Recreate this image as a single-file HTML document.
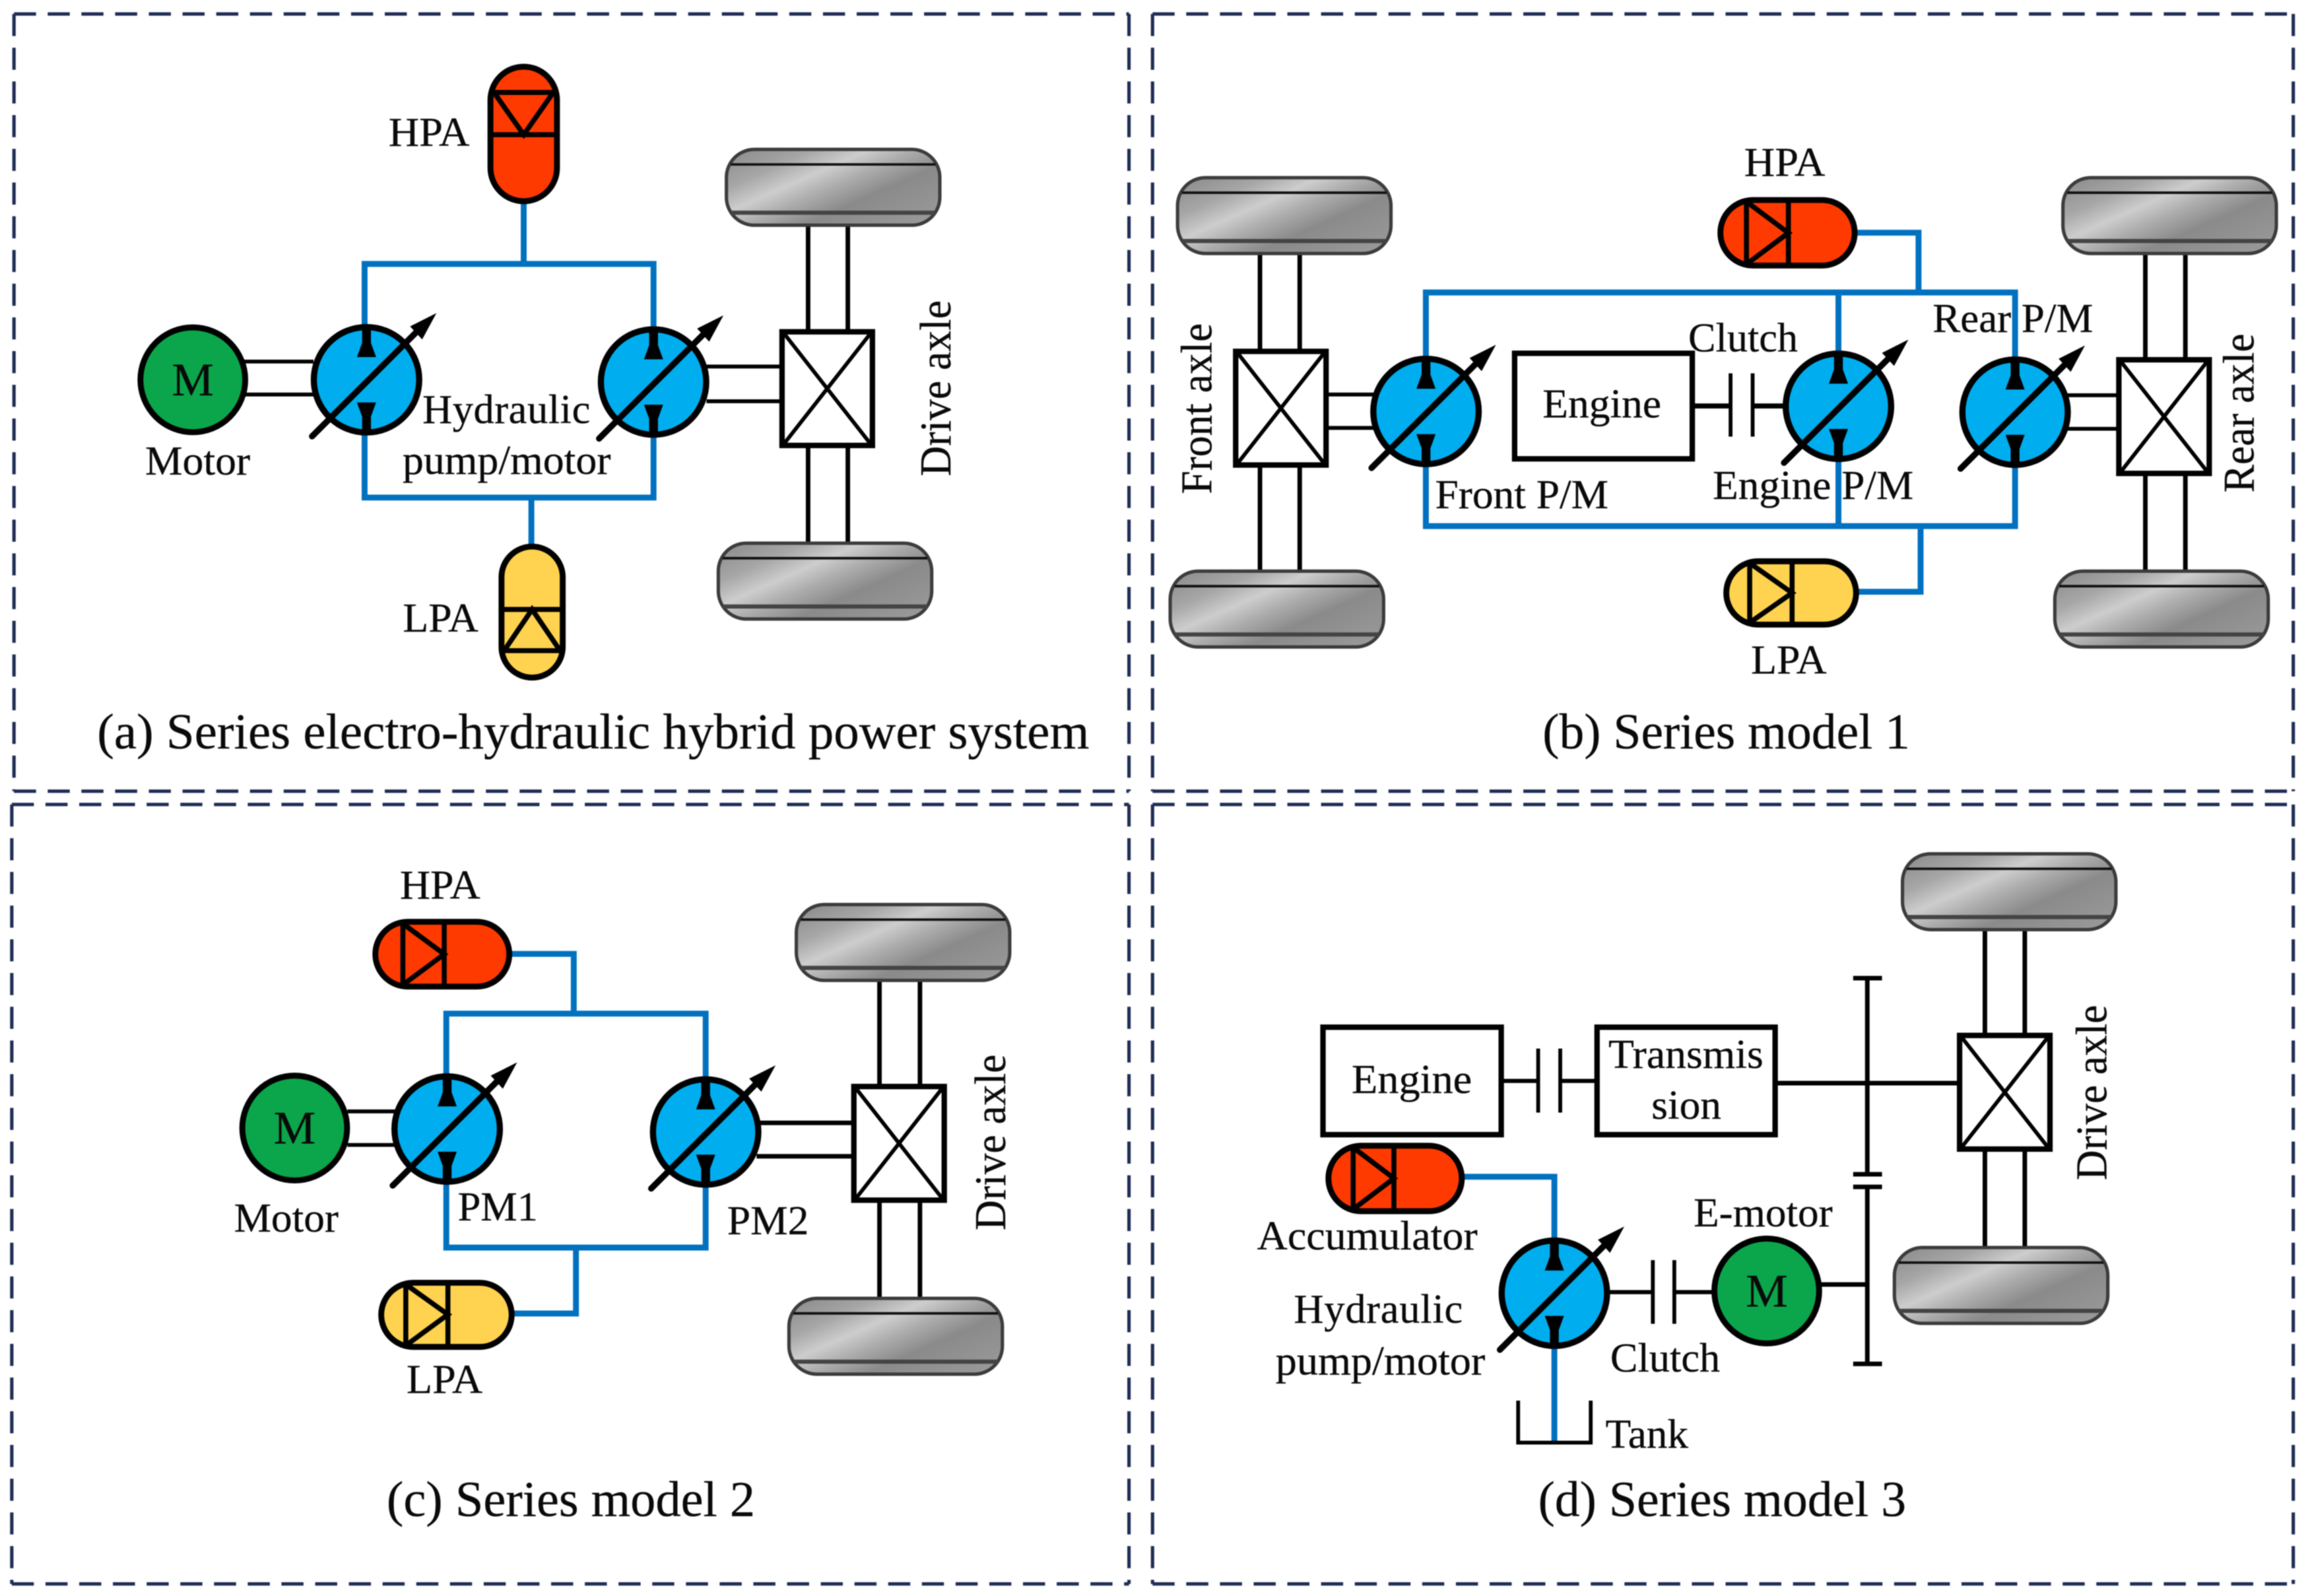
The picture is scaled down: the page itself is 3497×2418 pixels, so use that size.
<!DOCTYPE html>
<html><head><meta charset="utf-8"><style>
html,body{margin:0;padding:0;background:#fff}
svg{display:block;filter:blur(0.7px)}
text{font-family:"Liberation Serif",serif;fill:#0a0a0a;stroke:#0a0a0a;stroke-width:.16;font-size:28px}
.cap{font-size:34px}
.rot{font-size:30px}
.b{fill:none;stroke:#0071bf;stroke-width:4;stroke-linejoin:miter}
.k{fill:none;stroke:#000;stroke-width:2.6}
.k3{fill:none;stroke:#000;stroke-width:3.1}
.dash{fill:none;stroke:#1f2d55;stroke-width:2.3;stroke-dasharray:15 7.9}
.box{fill:#fff;stroke:#000;stroke-width:3.7}
.hp{fill:#ff3a00;stroke:#000;stroke-width:4}
.lp{fill:#ffd24f;stroke:#000;stroke-width:4}
.l{fill:none;stroke:#000;stroke-width:3.4}
</style></head><body>
<svg xmlns="http://www.w3.org/2000/svg" width="3497" height="2418" viewBox="0 0 1568 1084.2">
<defs>
<linearGradient id="tg" x1="0" y1="0.1" x2="1" y2="0.9">
<stop offset="0" stop-color="#8e8e8e"/><stop offset="0.2" stop-color="#a6a6a6"/><stop offset="0.36" stop-color="#cdcdcd"/><stop offset="0.5" stop-color="#ababab"/><stop offset="0.66" stop-color="#8a8a8a"/><stop offset="1" stop-color="#999"/>
</linearGradient>
<g id="wheel">
<rect x="1" y="1" width="145" height="51.5" rx="19" ry="19" fill="url(#tg)" stroke="#3c3c3c" stroke-width="2.3"/>
<line x1="4" y1="11.2" x2="143" y2="11.2" stroke="#111" stroke-width="1.7"/>
<line x1="4" y1="44" x2="143" y2="44" stroke="#444" stroke-width="2.8"/>
</g>
<g id="pump">
<circle r="35.8" fill="#00aeef" stroke="#000" stroke-width="4.2"/>
<path d="M-6.5,-15.4 H6.5 L3,-25 V-36 H-3 V-25 Z" fill="#000"/>
<path d="M-6.5,15.4 H6.5 L3,25 V36 H-3 V25 Z" fill="#000"/>
<line x1="-37" y1="38.4" x2="38" y2="-36.5" stroke="#000" stroke-width="4.2" stroke-linecap="round"/>
<path d="M47.5,-45.3 L29.6,-36.3 L37.8,-27.4 Z" fill="#000"/>
</g>
<g id="diff">
<rect x="-30.7" y="-38.6" width="61.4" height="77.2" class="box"/>
<path d="M-29,-37 L29,37 M29,-37 L-29,37" stroke="#000" stroke-width="2.6" fill="none"/>
</g>
<g id="motor">
<circle r="35.6" fill="#0ba64b" stroke="#000" stroke-width="4"/>
</g>
</defs>
<rect width="1568" height="1084.2" fill="#fff"/>

<!-- panels -->
<path class="dash" d="M9.5,9.5 H767 M9.5,9.5 V537.5 M767,9.5 V537.5 M9.5,537.5 H767"/>
<path class="dash" d="M783,9.5 H1558 M783,9.5 V537.5 M1558,9.5 V537.5 M783,537.5 H1558"/>
<path class="dash" d="M8,546.5 H767 M8,546.5 V1076 M767,546.5 V1076 M8,1076 H767"/>
<path class="dash" d="M783,546.5 H1558 M783,546.5 V1076 M1558,546.5 V1076 M783,1076 H1558"/>

<!-- PANEL A -->
<path class="b" d="M355.8,137 V179.3 M247.7,222 V179.3 H444 V222 M247.7,295 V338 H444 V295 M361,338 V371"/>
<line x1="165" y1="245.6" x2="213" y2="245.6" class="k"/><line x1="165" y1="268" x2="213" y2="268" class="k"/>
<line x1="480" y1="249" x2="532" y2="249" class="k"/><line x1="480" y1="272.6" x2="532" y2="272.6" class="k"/>
<line x1="549" y1="154" x2="549" y2="226" class="k3"/><line x1="576" y1="154" x2="576" y2="226" class="k3"/>
<line x1="549" y1="302" x2="549" y2="369" class="k3"/><line x1="576" y1="302" x2="576" y2="369" class="k3"/>
<use href="#wheel" x="492.5" y="100.5"/><use href="#wheel" x="487" y="368"/>
<use href="#diff" x="562" y="264"/>
<use href="#motor" x="131" y="258"/>
<text x="131" y="268.5" text-anchor="middle" style="font-size:32px">M</text>
<use href="#pump" x="249" y="258"/><use href="#pump" x="444" y="259.5"/>
<rect x="333.2" y="45.3" width="45.2" height="91.4" rx="22.6" ry="22.6" class="hp"/>
<path class="l" d="M333.2,62.8 H378.4 M333.2,91.5 H378.4 M335.6,62.8 L355.8,91.5 L375.9,62.8"/>
<rect x="340.7" y="371.3" width="41.6" height="89" rx="20.8" ry="20.8" class="lp"/>
<path class="l" d="M340.7,414 H382.3 M340.7,442 H382.3 M342.5,442 L361.5,414 L380.5,442"/>
<text x="264" y="99" textLength="55" lengthAdjust="spacingAndGlyphs">HPA</text>
<text x="98.6" y="322.5" textLength="71.4" lengthAdjust="spacingAndGlyphs">Motor</text>
<text x="287" y="287.5" textLength="114" lengthAdjust="spacing">Hydraulic</text>
<text x="273.5" y="322" textLength="141.5" lengthAdjust="spacingAndGlyphs">pump/motor</text>
<text x="273.7" y="429" textLength="51.3" lengthAdjust="spacingAndGlyphs">LPA</text>
<text class="rot" transform="translate(645.6,323.5) rotate(-90)" textLength="119.5" lengthAdjust="spacingAndGlyphs">Drive axle</text>
<text class="cap" x="66" y="508.5" textLength="674" lengthAdjust="spacingAndGlyphs">(a) Series electro-hydraulic hybrid power system</text>

<!-- PANEL B -->
<path class="b" d="M1261,158.1 H1303.4 V198.7 M968.7,244 V198.7 H1369 V244 M1249,198.7 V240 M968.7,316 V357.4 H1369 V316 M1249,312 V357.4 M1262,402 H1304.8 V357.4"/>
<line x1="856" y1="173" x2="856" y2="240" class="k3"/><line x1="883" y1="173" x2="883" y2="240" class="k3"/>
<line x1="856" y1="315" x2="856" y2="388" class="k3"/><line x1="883" y1="315" x2="883" y2="388" class="k3"/>
<line x1="1457.5" y1="173" x2="1457.5" y2="245" class="k3"/><line x1="1484.7" y1="173" x2="1484.7" y2="245" class="k3"/>
<line x1="1457.5" y1="320" x2="1457.5" y2="388" class="k3"/><line x1="1484.7" y1="320" x2="1484.7" y2="388" class="k3"/>
<line x1="900" y1="268" x2="935" y2="268" class="k"/><line x1="900" y1="290.7" x2="935" y2="290.7" class="k"/>
<line x1="1404" y1="268.5" x2="1440" y2="268.5" class="k"/><line x1="1404" y1="291.3" x2="1440" y2="291.3" class="k"/>
<use href="#wheel" x="799" y="119.7"/><use href="#wheel" x="794" y="387"/>
<use href="#wheel" x="1400.5" y="119.7"/><use href="#wheel" x="1395" y="387"/>
<use href="#diff" x="870.2" y="277.3"/><use href="#diff" x="1470.2" y="283"/>
<use href="#pump" x="968.8" y="279.5"/><use href="#pump" x="1249" y="276"/><use href="#pump" x="1369" y="280"/>
<rect x="1029" y="240" width="120.7" height="71.7" class="box"/>
<path d="M1149.7,275.8 H1175.7 M1190.7,275.8 H1213" stroke="#000" stroke-width="3.4" fill="none"/>
<path d="M1175.7,253.6 V296.6 M1190.7,253.6 V296.6" class="k"/>
<rect x="1168.8" y="135.9" width="91.2" height="44.5" rx="22.2" ry="22.2" class="hp"/>
<path class="l" d="M1186.5,137 V179.5 M1215,135.9 V180.4 M1186.5,137 L1215,158.2 L1186.5,179.5"/>
<rect x="1172.8" y="381.3" width="88.2" height="43" rx="21.5" ry="21.5" class="lp"/>
<path class="l" d="M1188.7,382.5 V423 M1217.5,381.3 V424.3 M1188.7,382.5 L1217.5,402.8 L1188.7,423"/>
<text x="1185" y="119.4" textLength="55" lengthAdjust="spacingAndGlyphs">HPA</text>
<text x="1189.6" y="457.5" textLength="51.4" lengthAdjust="spacingAndGlyphs">LPA</text>
<text x="1147" y="238.7" textLength="74.4" lengthAdjust="spacingAndGlyphs">Clutch</text>
<text x="1048" y="283.7" textLength="80.6" lengthAdjust="spacingAndGlyphs">Engine</text>
<text x="1313" y="225.6" textLength="109" lengthAdjust="spacingAndGlyphs">Rear P/M</text>
<text x="975" y="345.3" textLength="117.7" lengthAdjust="spacingAndGlyphs">Front P/M</text>
<text x="1163.6" y="339" textLength="136.4" lengthAdjust="spacingAndGlyphs">Engine P/M</text>
<text class="rot" transform="translate(823,335.6) rotate(-90)" textLength="116" lengthAdjust="spacingAndGlyphs">Front axle</text>
<text class="rot" transform="translate(1531,334.6) rotate(-90)" textLength="108" lengthAdjust="spacingAndGlyphs">Rear axle</text>
<text class="cap" x="1048" y="508.5" textLength="249.6" lengthAdjust="spacingAndGlyphs">(b) Series model 1</text>

<!-- PANEL C -->
<path class="b" d="M347,648 H389.8 V688.6 M303.2,735 V688.6 H479.4 V735 M303.2,800 V847.5 H479.4 V802 M349,892.3 H391.3 V847.5"/>
<line x1="236" y1="755" x2="269" y2="755" class="k"/><line x1="236" y1="777.8" x2="269" y2="777.8" class="k"/>
<line x1="514" y1="762.8" x2="580" y2="762.8" class="k3"/><line x1="514" y1="785.5" x2="580" y2="785.5" class="k3"/>
<line x1="597.5" y1="667" x2="597.5" y2="738" class="k3"/><line x1="625" y1="667" x2="625" y2="738" class="k3"/>
<line x1="597.5" y1="815" x2="597.5" y2="882" class="k3"/><line x1="625" y1="815" x2="625" y2="882" class="k3"/>
<use href="#wheel" x="540" y="613.5"/><use href="#wheel" x="535" y="881"/>
<use href="#diff" x="610.8" y="776.7"/>
<use href="#motor" x="200.2" y="766.3"/>
<text x="200.2" y="776.8" text-anchor="middle" style="font-size:32px">M</text>
<use href="#pump" x="303.8" y="767"/><use href="#pump" x="479.4" y="769"/>
<rect x="255" y="626.2" width="91" height="44" rx="22" ry="22" class="hp"/>
<path class="l" d="M273.7,627.5 V669 M301.8,626.2 V670.2 M273.7,627.5 L301.8,648.2 L273.7,669"/>
<rect x="259" y="871.4" width="88.6" height="43.6" rx="21.8" ry="21.8" class="lp"/>
<path class="l" d="M275.7,872.5 V914 M304.3,871.4 V915 M275.7,872.5 L304.3,893 L275.7,914"/>
<text x="271.7" y="610.5" textLength="54.6" lengthAdjust="spacingAndGlyphs">HPA</text>
<text x="276.2" y="946.4" textLength="51.6" lengthAdjust="spacingAndGlyphs">LPA</text>
<text x="159" y="836.8" textLength="71" lengthAdjust="spacingAndGlyphs">Motor</text>
<text x="311" y="829" textLength="54.4" lengthAdjust="spacingAndGlyphs">PM1</text>
<text x="494" y="838.4" textLength="55.5" lengthAdjust="spacingAndGlyphs">PM2</text>
<text class="rot" transform="translate(683,835.8) rotate(-90)" textLength="119.5" lengthAdjust="spacingAndGlyphs">Drive axle</text>
<text class="cap" x="262.7" y="1030" textLength="250.3" lengthAdjust="spacingAndGlyphs">(c) Series model 2</text>

<!-- PANEL D -->
<path class="b" d="M994,799.4 H1056 V845 M1056,912 V979"/>
<path d="M1031.4,951.5 V980 H1080.7 V951.5" stroke="#000" stroke-width="2.6" fill="none"/>
<line x1="1348.5" y1="632" x2="1348.5" y2="704" class="k3"/><line x1="1375.6" y1="632" x2="1375.6" y2="704" class="k3"/>
<line x1="1348.5" y1="780" x2="1348.5" y2="848" class="k3"/><line x1="1375.6" y1="780" x2="1375.6" y2="848" class="k3"/>
<use href="#wheel" x="1291.5" y="579"/><use href="#wheel" x="1286" y="846.5"/>
<use href="#diff" x="1362" y="742"/>
<rect x="898.8" y="697.8" width="121.1" height="73" class="box"/>
<rect x="1085" y="697.8" width="121" height="73" class="box"/>
<path d="M1019.9,734.3 H1045 M1060,734.3 H1085" stroke="#000" stroke-width="2.8" fill="none"/>
<path d="M1045,712.3 V755.8 M1060,712.3 V755.8" class="k"/>
<line x1="1206" y1="735.8" x2="1331" y2="735.8" class="k3"/>
<path d="M1268.6,664.5 V797.7 M1268.6,806.3 V926.5" class="k3"/>
<path d="M1259,664.5 H1278.6 M1259,926.5 H1278.6 M1259,797.7 H1278.6 M1259,806.3 H1278.6" class="k3"/>
<line x1="1236" y1="872.6" x2="1268.6" y2="872.6" class="k3"/>
<path d="M1090,877.8 H1122.9 M1137.5,877.8 H1166" stroke="#000" stroke-width="2.8" fill="none"/>
<path d="M1122.9,856 V899.3 M1137.5,856 V899.3" class="k"/>
<use href="#pump" x="1056" y="878.5"/>
<use href="#motor" x="1200.3" y="877"/>
<text x="1200.3" y="887.5" text-anchor="middle" style="font-size:32px">M</text>
<rect x="902.5" y="778.3" width="90.6" height="44.5" rx="22.2" ry="22.2" class="hp"/>
<path class="l" d="M919.3,779.5 V821.5 M947,778.3 V822.8 M919.3,779.5 L947,800.5 L919.3,821.5"/>
<text x="918.3" y="742.6" textLength="81.7" lengthAdjust="spacingAndGlyphs">Engine</text>
<text x="1092.7" y="725.5" textLength="105.3" lengthAdjust="spacingAndGlyphs">Transmis</text>
<text x="1122" y="760" textLength="47.4" lengthAdjust="spacingAndGlyphs">sion</text>
<text x="854" y="848.8" textLength="149.8" lengthAdjust="spacingAndGlyphs">Accumulator</text>
<text x="879" y="898.6" textLength="114.7" lengthAdjust="spacing">Hydraulic</text>
<text x="866.6" y="933.7" textLength="142.4" lengthAdjust="spacingAndGlyphs">pump/motor</text>
<text x="1094" y="931.7" textLength="74.6" lengthAdjust="spacingAndGlyphs">Clutch</text>
<text x="1090.7" y="983.5" textLength="56.3" lengthAdjust="spacingAndGlyphs">Tank</text>
<text x="1150.6" y="833" textLength="94.4" lengthAdjust="spacingAndGlyphs">E-motor</text>
<text class="rot" transform="translate(1431,801.8) rotate(-90)" textLength="119.1" lengthAdjust="spacingAndGlyphs">Drive axle</text>
<text class="cap" x="1045" y="1030" textLength="250" lengthAdjust="spacingAndGlyphs">(d) Series model 3</text>
</svg>
</body></html>
